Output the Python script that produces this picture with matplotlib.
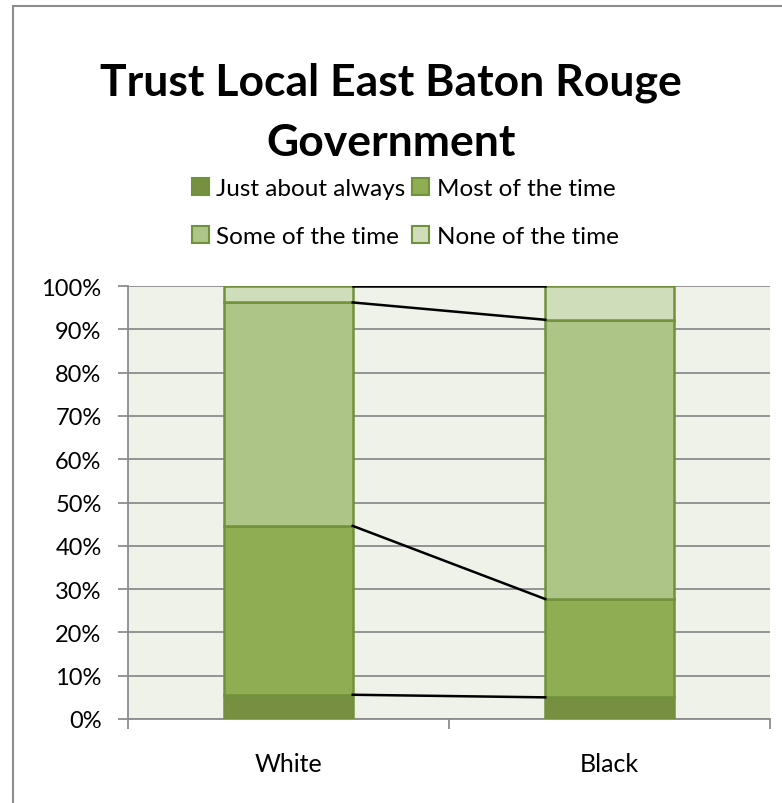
import matplotlib
matplotlib.use("Agg")
import matplotlib.pyplot as plt
from matplotlib.patches import Rectangle, Patch
import numpy as np

categories = ["White", "Black"]
series_names = ["Just about always", "Most of the time", "Some of the time", "None of the time"]
just_about_always = [5.6, 5.0]
most_of_the_time = [39.0, 22.7]
some_of_the_time = [51.6, 64.5]
none_of_the_time = [3.8, 7.8]
yticks = [0, 10, 20, 30, 40, 50, 60, 70, 80, 90, 100]

colors = ["#778F40", "#8FAE53", "#ADC687", "#D0DDBB"]
edge = "#71913B"
font = ["Lato", "DejaVu Sans"]
plt.rcParams['font.family'] = font

fig = plt.figure(figsize=(7.82, 8.04), dpi=100)
fig.patch.set_facecolor("white")
fig.patches.append(Rectangle((13/782, -0.1), 1.1, (804-7)/804 + 0.1, transform=fig.transFigure,
                             fill=False, edgecolor="#8C8C8C", linewidth=1.5))

ax = fig.add_axes([128/782, 84/804, 642/782, 433/804])
ax.set_facecolor("#EEF2E9")
x = np.arange(len(categories))
w = 0.4
data = [just_about_always, most_of_the_time, some_of_the_time, none_of_the_time]
bottom = np.zeros(len(categories))
tops = []
for vals, c, name in zip(data, colors, series_names):
    ax.bar(x, vals, w, bottom=bottom, color=c, edgecolor=edge, linewidth=1.8, label=name, zorder=3)
    bottom = bottom + np.array(vals)
    tops.append(bottom.copy())
for t in tops:
    ax.plot([x[0] + w/2, x[1] - w/2], [t[0], t[1]], color="black", linewidth=1.8, zorder=4)

ax.set_xlim(-0.5, 1.5)
ax.set_ylim(0, 100)
ax.set_yticks(yticks)
ax.set_yticklabels([f"{v}%" for v in yticks], fontsize=17)
ax.yaxis.grid(True, color="#8C8C8C", linewidth=1.3, zorder=1)
ax.set_axisbelow(True)
ax.set_xticks([-0.5, 0.5, 1.5])
ax.set_xticklabels([])
ax.set_xticks(x, minor=True)
ax.set_xticklabels(categories, minor=True, fontsize=18)
ax.tick_params(axis="x", which="minor", length=0, pad=24)
ax.tick_params(axis="x", which="major", length=7, color="#8C8C8C", width=1.3)
ax.tick_params(axis="y", length=7, color="#8C8C8C", width=1.3, pad=12)
for s in ["top", "right"]:
    ax.spines[s].set_visible(False)
for s in ["left", "bottom"]:
    ax.spines[s].set_color("#8C8C8C")
    ax.spines[s].set_linewidth(1.3)

fig.text(0.5, 0.8595, "Trust Local East Baton Rouge\nGovernment", ha="center", va="center",
         fontsize=32, fontweight="bold", linespacing=1.6)

handles = [Patch(facecolor=c, edgecolor=edge, linewidth=1.5) for c in colors]
order = [0, 2, 1, 3]
fig.legend([handles[i] for i in order], [series_names[i] for i in order],
           loc="center", bbox_to_anchor=(0.518, 0.7345), ncol=2,
           frameon=False, fontsize=17.5, handlelength=0.7, handleheight=0.7, handletextpad=0.3,
           columnspacing=0.3, labelspacing=1.12)

fig.savefig("out.png", dpi=100)
